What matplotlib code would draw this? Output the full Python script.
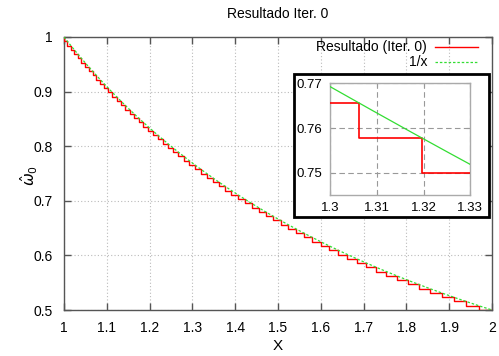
import numpy as np
import matplotlib
matplotlib.use("Agg")
import matplotlib.pyplot as plt
from matplotlib.lines import Line2D
from matplotlib.patches import Rectangle

plt.rcParams['font.family'] = ['Liberation Sans', 'DejaVu Sans']
plt.rcParams['mathtext.fontset'] = 'dejavusans'

# Niveles del resultado cuantizado (Iter. 0), de 1 a 0.5
LEVELS = [
    1.0, 0.9921875, 0.984375, 0.9765625, 0.96875, 0.9609375, 0.953125, 0.9453125,
    0.9375, 0.9296875, 0.921875, 0.9140625, 0.90625, 0.8984375, 0.890625, 0.8828125,
    0.875, 0.8671875, 0.859375, 0.8515625, 0.84375, 0.8359375, 0.828125, 0.8203125,
    0.8125, 0.8046875, 0.796875, 0.7890625, 0.78125, 0.7734375, 0.765625, 0.7578125,
    0.75, 0.7421875, 0.734375, 0.7265625, 0.71875, 0.7109375, 0.703125, 0.6953125,
    0.6875, 0.6796875, 0.671875, 0.6640625, 0.65625, 0.6484375, 0.640625, 0.6328125,
    0.625, 0.6171875, 0.609375, 0.6015625, 0.59375, 0.5859375, 0.578125, 0.5703125,
    0.5625, 0.5546875, 0.546875, 0.5390625, 0.53125, 0.5234375, 0.515625, 0.5078125,
    0.5,
]

X_TICKS = [1.0, 1.1, 1.2, 1.3, 1.4, 1.5, 1.6, 1.7, 1.8, 1.9, 2.0]
X_LABELS = ['1', '1.1', '1.2', '1.3', '1.4', '1.5', '1.6', '1.7', '1.8', '1.9', '2']
Y_TICKS = [0.5, 0.6, 0.7, 0.8, 0.9, 1.0]
Y_LABELS = ['0.5', '0.6', '0.7', '0.8', '0.9', '1']

ZOOM_X_TICKS = [1.30, 1.31, 1.32, 1.33]
ZOOM_X_LABELS = ['1.3', '1.31', '1.32', '1.33']
ZOOM_Y_TICKS = [0.75, 0.76, 0.77]
ZOOM_Y_LABELS = ['0.75', '0.76', '0.77']

RED = '#ff0000'
GREEN = '#33dd33'
FS = 10

levels = np.array(LEVELS)
edges = 1.0 / levels  # cada escalón cae donde 1/x alcanza el nivel
x_curve = np.linspace(1.0, 2.0, 600)
y_curve = 1.0 / x_curve

W, H = 499, 356
fig = plt.figure(figsize=(W / 100, H / 100), dpi=100)


def fx(px):
    return px / W


def fy(py):
    return 1 - py / H


# --- Gráfico principal ---
ax = fig.add_axes([fx(64), fy(310), (492 - 64) / W, (310 - 37) / H])
ax.step(edges, levels, where='pre', color=RED, lw=1.0, zorder=3)
ax.plot(x_curve, y_curve, color=GREEN, lw=0.9, dashes=(2, 1.5), zorder=4)
ax.set_xlim(1, 2)
ax.set_ylim(0.5, 1)
ax.set_xticks(X_TICKS)
ax.set_xticklabels(X_LABELS, fontsize=FS)
ax.set_yticks(Y_TICKS)
ax.set_yticklabels(Y_LABELS, fontsize=FS)
ax.tick_params(direction='in', length=5, width=1, color='#555555',
               top=True, right=True)
ax.tick_params(axis='x', pad=8)
ax.tick_params(axis='y', pad=8)
ax.grid(True, color='#bbbbbb', linestyle=(0, (1, 2)), linewidth=0.8)
for s in ax.spines.values():
    s.set_color('#555555')
    s.set_linewidth(1.0)

fig.text(fx(278), fy(14), 'Resultado Iter. 0', ha='center', va='center', fontsize=FS)
fig.text(fx(278), fy(346), 'X', ha='center', va='center', fontsize=FS + 1)
fig.text(fx(29), fy(175), r'$\hat{\omega}_0$', ha='center', va='center',
         rotation=90, fontsize=FS + 1)

# Leyenda al estilo gnuplot: texto a la derecha alineado, muestra de línea después
fig.text(fx(427), fy(47), 'Resultado (Iter. 0)', ha='right', va='center', fontsize=FS)
fig.text(fx(427), fy(62), '1/x', ha='right', va='center', fontsize=FS)
fig.add_artist(Line2D([fx(435), fx(478)], [fy(47), fy(47)], color=RED, lw=1.0))
fig.add_artist(Line2D([fx(435), fx(478)], [fy(62), fy(62)], color=GREEN, lw=0.9,
                      dashes=(2, 1.5)))

# --- Recuadro con el zoom ---
frame = Rectangle((fx(294), fy(217)), (489 - 294) / W, (217 - 74) / H,
                  transform=fig.transFigure, facecolor='white', edgecolor='black',
                  linewidth=2.0, zorder=5)
fig.add_artist(frame)

axin = fig.add_axes([fx(330.3), fy(195.3), 140 / W, 112 / H], zorder=6)
axin.step(edges, levels, where='pre', color=RED, lw=1.2, zorder=3)
axin.plot(x_curve, y_curve, color=GREEN, lw=0.9, zorder=4)
axin.set_xlim(1.30, 1.33)
axin.set_ylim(0.745, 0.77)
axin.set_xticks(ZOOM_X_TICKS)
axin.set_xticklabels(ZOOM_X_LABELS, fontsize=FS - 0.5)
axin.set_yticks(ZOOM_Y_TICKS)
axin.set_yticklabels(ZOOM_Y_LABELS, fontsize=FS - 0.5)
axin.tick_params(direction='in', length=3, color='#999999', top=True, right=True)
axin.tick_params(axis='x', pad=5)
axin.tick_params(axis='y', pad=6)
axin.grid(True, color='#999999', linestyle=(0, (5, 3)), linewidth=0.8)
for s in axin.spines.values():
    s.set_color('#aaaaaa')
    s.set_linewidth(1.0)

fig.savefig('out.png', dpi=100)
